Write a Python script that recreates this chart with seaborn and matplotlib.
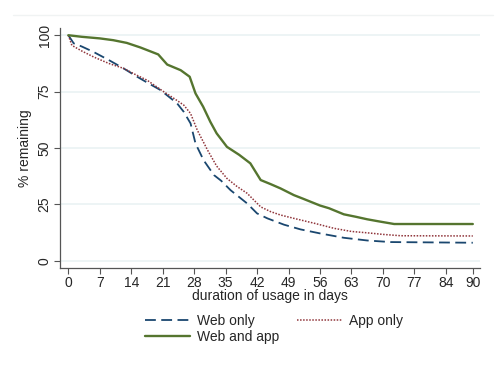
import matplotlib
matplotlib.use("Agg")
import matplotlib.pyplot as plt
from matplotlib.lines import Line2D
import seaborn as sns
import pandas as pd

# survival curves (% remaining by day)
web_days = [0, 1.2, 3, 5.6, 9, 12.3, 15.3, 18, 20.5, 24.2, 25.7, 27.2, 28.3, 30.1,
            32.4, 34, 36.1, 39.8, 42, 44.3, 48, 51.7, 56.1, 61.3, 66.5, 71.7, 90]
web_pct = [100, 96.4, 95, 92.6, 89, 85.3, 81.6, 78.5, 75.7, 69.8, 66, 60.9, 52, 44.6,
           38, 35.5, 31.3, 25.4, 21, 18.8, 16, 13.9, 12.1, 10.2, 9.0, 8.3, 8.0]

app_days = [0, 0.8, 3, 5.6, 9, 12.3, 15, 17.5, 21.2, 23.5, 25.7, 27.2, 28.7, 31, 33,
            35.3, 37.5, 39.8, 42.8, 45, 47.2, 50.2, 55, 59.1, 63, 66.5, 70, 74, 90]
app_pct = [100, 95.5, 93, 90.4, 87.5, 85.3, 82.5, 80.1, 75, 72, 69, 65.3, 57.9, 49, 42,
           36.5, 33, 29.9, 23.9, 21.8, 20.3, 18.8, 16.5, 14.4, 13, 12.4, 11.7, 11.1, 11]

both_days = [0, 3, 7, 10, 13, 16, 20, 22, 25, 27, 28.3, 30, 31.6, 33, 35.3, 38, 40.5,
             42.8, 45, 47.2, 50.2, 52, 56, 58, 61.3, 64, 66.5, 69, 72.5, 90]
both_pct = [100, 99.3, 98.6, 97.8, 96.6, 94.6, 91.5, 87, 84.5, 81.6, 74.2, 68.3, 61.6,
            56.5, 50.5, 47, 43.2, 35.8, 34, 32.1, 29.1, 27.7, 24.5, 23.3, 20.6, 19.5,
            18.4, 17.5, 16.3, 16.3]

x_ticks = [0, 7, 14, 21, 28, 35, 42, 49, 56, 63, 70, 77, 84, 90]
y_ticks = [0, 25, 50, 75, 100]

sns.set_theme(style="white")
plt.rcParams["font.family"] = ["Liberation Sans", "DejaVu Sans"]

fig = plt.figure(figsize=(5, 3.73), dpi=100)
ax = fig.add_axes([0.12, 0.2815, 0.84, 0.6434])

series = [
    ("Web only", web_days, web_pct, "#1a476f", (0, (6, 3)), 1.3),
    ("App only", app_days, app_pct, "#90353b", (0, (1, 1)), 1.1),
    ("Web and app", both_days, both_pct, "#55752f", "-", 1.7),
]
handles = {}
for name, d, p, col, ls, lw in series:
    df = pd.DataFrame({"day": d, "pct": p})
    sns.lineplot(data=df, x="day", y="pct", ax=ax, color=col, linestyle=ls,
                 linewidth=lw, legend=False, estimator=None)
    handles[name] = Line2D([], [], color=col, linestyle=ls, linewidth=lw, label=name)

for yv in y_ticks:
    ax.axhline(yv, color="#eaf2f3", linewidth=1.2, zorder=0)

ax.set_xlim(-1.85, 91.6)
ax.set_ylim(-3.2, 103.2)
ax.set_xticks(x_ticks)
ax.set_yticks(y_ticks)
ax.tick_params(axis="both", direction="out", length=4, width=0.8, color="#555555",
               labelsize=10, pad=2, bottom=True, left=True)
for lab in ax.get_yticklabels():
    lab.set_rotation(90)
    lab.set_va("center")

for side in ["top", "right"]:
    ax.spines[side].set_visible(False)
for side in ["left", "bottom"]:
    ax.spines[side].set_color("#555555")
    ax.spines[side].set_linewidth(0.9)

ax.set_xlabel("duration of usage in days", fontsize=10, labelpad=-1)
ax.set_ylabel("% remaining", fontsize=10, labelpad=4)

fig.add_artist(Line2D([13 / 500, 493 / 500], [1 - 15 / 373, 1 - 15 / 373],
                      color="#f0f3f3", linewidth=1))

# column-major fill: Web only / Web and app in col 1, App only in col 2
order = ["Web only", "Web and app", "App only"]
fig.legend(handles=[handles[k] for k in order], loc="center",
           bbox_to_anchor=(0.548, 0.118), ncol=2, frameon=False, fontsize=10,
           handlelength=3.2, columnspacing=1.3, labelspacing=0.15,
           handletextpad=0.5)

plt.savefig("out.png", dpi=100)
plt.close()
